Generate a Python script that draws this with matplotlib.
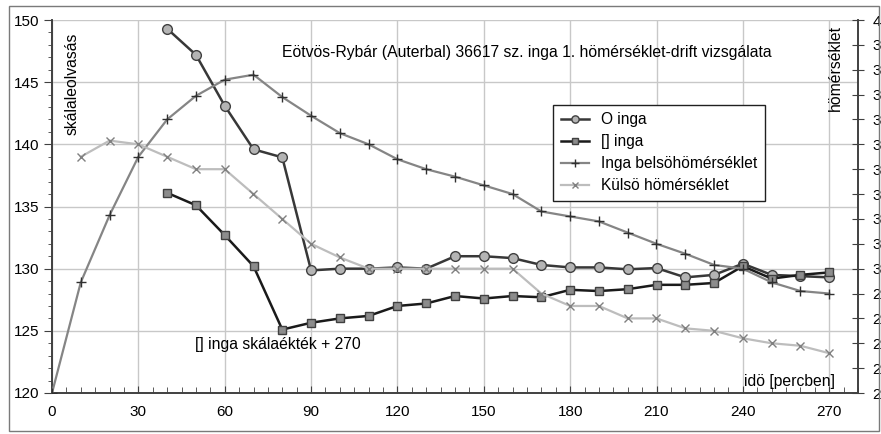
import matplotlib.pyplot as plt
from matplotlib.ticker import MultipleLocator, FixedLocator
from matplotlib.patches import Rectangle

plt.rcParams['font.family'] = ['Liberation Sans', 'DejaVu Sans']

# idő [perc]
t_o = [40, 50, 60, 70, 80, 90, 100, 110, 120, 130, 140, 150, 160, 170, 180,
       190, 200, 210, 220, 230, 240, 250, 260, 270]
o_inga = [149.3, 147.2, 143.1, 139.6, 138.95, 129.86, 130.0, 130.0, 130.1, 130.0,
          131.0, 131.0, 130.85, 130.3, 130.1, 130.1, 129.95, 130.05, 129.3, 129.5,
          130.4, 129.5, 129.4, 129.3]
sq_inga = [136.1, 135.1, 132.7, 130.2, 125.1, 125.65, 126.0, 126.2, 127.0, 127.2,
           127.8, 127.6, 127.8, 127.7, 128.3, 128.2, 128.35, 128.7, 128.7, 128.85,
           130.2, 129.2, 129.5, 129.7]

t_belso = [0, 10, 20, 30, 40, 50, 60, 70, 80, 90, 100, 110, 120, 130, 140, 150,
           160, 170, 180, 190, 200, 210, 220, 230, 240, 250, 260, 270]
belso = [25.0, 29.45, 32.15, 34.5, 36.0, 36.95, 37.6, 37.8, 36.9, 36.15, 35.45,
         35.0, 34.4, 34.0, 33.7, 33.35, 33.0, 32.3, 32.1, 31.9, 31.45, 31.0, 30.6,
         30.15, 30.0, 29.45, 29.1, 29.0]

t_kulso = [10, 20, 30, 40, 50, 60, 70, 80, 90, 100, 110, 120, 130, 140, 150, 160,
           170, 180, 190, 200, 210, 220, 230, 240, 250, 260, 270]
kulso = [34.5, 35.15, 35.0, 34.5, 34.0, 34.0, 33.0, 32.0, 31.0, 30.45, 30.0, 30.0,
         30.0, 30.0, 30.0, 30.0, 29.0, 28.5, 28.5, 28.0, 28.0, 27.6, 27.5, 27.2,
         27.0, 26.9, 26.6]

right_ticks = list(range(25, 41))
right_labels = ['2'] * 5 + ['3'] * 10 + ['4']

fig = plt.figure(figsize=(8.81, 4.34), dpi=100)
fig.patches.append(Rectangle((9 / 881, 3 / 434), 870 / 881, 425 / 434,
                             transform=fig.transFigure, fill=False,
                             edgecolor='#7a7a7a', lw=1))
ax = fig.add_axes([52 / 881, 1 - 393 / 434, 806 / 881, 373 / 434])
ax2 = ax.twinx()
ax.set_zorder(ax2.get_zorder() - 1)
ax.patch.set_visible(True)
ax2.patch.set_visible(False)

ax.set_xlim(0, 280)
ax.set_ylim(120, 150)
ax2.set_ylim(25, 40)

ax.grid(True, color='#c8c8c8', lw=1)
ax.set_axisbelow(True)
ax.xaxis.set_major_locator(FixedLocator(range(0, 271, 30)))
ax.xaxis.set_minor_locator(MultipleLocator(5))
ax.yaxis.set_major_locator(MultipleLocator(5))
ax.yaxis.set_minor_locator(MultipleLocator(1))
ax.tick_params(axis='x', which='major', direction='in', length=5, pad=9,
               labelsize=11, color='#404040')
ax.tick_params(axis='x', which='minor', direction='in', length=4, color='#404040')
ax.tick_params(axis='y', which='major', direction='out', length=6, pad=3,
               labelsize=11, color='#404040')
ax.tick_params(axis='y', which='minor', direction='out', length=3, color='#404040')

ax2.set_yticks(right_ticks)
ax2.set_yticklabels(right_labels)
ax2.tick_params(axis='y', direction='inout', length=9, pad=6, labelsize=11,
                color='#404040')

for a in (ax, ax2):
    a.spines['top'].set_visible(False)
    for s in ('left', 'right', 'bottom'):
        a.spines[s].set_color('#404040')
        a.spines[s].set_linewidth(1.2)

l1, = ax.plot(t_o, o_inga, color='#383838', lw=1.8, marker='o', ms=7,
              mfc='#b4b4b4', mec='#404040', mew=1, label='O inga', zorder=4)
l2, = ax.plot(t_o, sq_inga, color='#1a1a1a', lw=1.8, marker='s', ms=6,
              mfc='#8c8c8c', mec='#404040', mew=1, label='[] inga', zorder=4)
l3, = ax2.plot(t_belso, belso, color='#858585', lw=1.6, marker='+', ms=7.5,
               mec='#303030', mew=1, label='Inga belsöhömérséklet', zorder=3)
l4, = ax2.plot(t_kulso, kulso, color='#bdbdbd', lw=1.6, marker='x', ms=6,
               mec='#808080', mew=1, label='Külsö hömérséklet', zorder=3)

ax.text(165, 147.4, 'Eötvös-Rybár (Auterbal) 36617 sz. inga 1. hömérséklet-drift vizsgálata',
        ha='center', va='center', fontsize=11.3)
ax.text(7.1, 144.85, 'skálaleolvasás', rotation=90, ha='center', va='center', fontsize=11.3)
ax.text(272.1, 146.1, 'hömérséklet', rotation=90, ha='center', va='center', fontsize=11.3)
ax.text(256.2, 120.95, 'idö [percben]', ha='center', va='center', fontsize=11.3)
ax.text(78.6, 123.9, '[] inga skálaékték + 270', ha='center', va='center', fontsize=11.3)

leg = ax2.legend(handles=[l1, l2, l3, l4], loc='upper left',
                 bbox_to_anchor=(0.612, 0.794), fontsize=11.2, frameon=True,
                 fancybox=False, edgecolor='#202020', framealpha=1,
                 handlelength=1.8, handletextpad=0.8, labelspacing=0.45,
                 borderpad=0.5, markerscale=0.75)
leg.get_frame().set_linewidth(1)

fig.savefig('out.png', dpi=100)
